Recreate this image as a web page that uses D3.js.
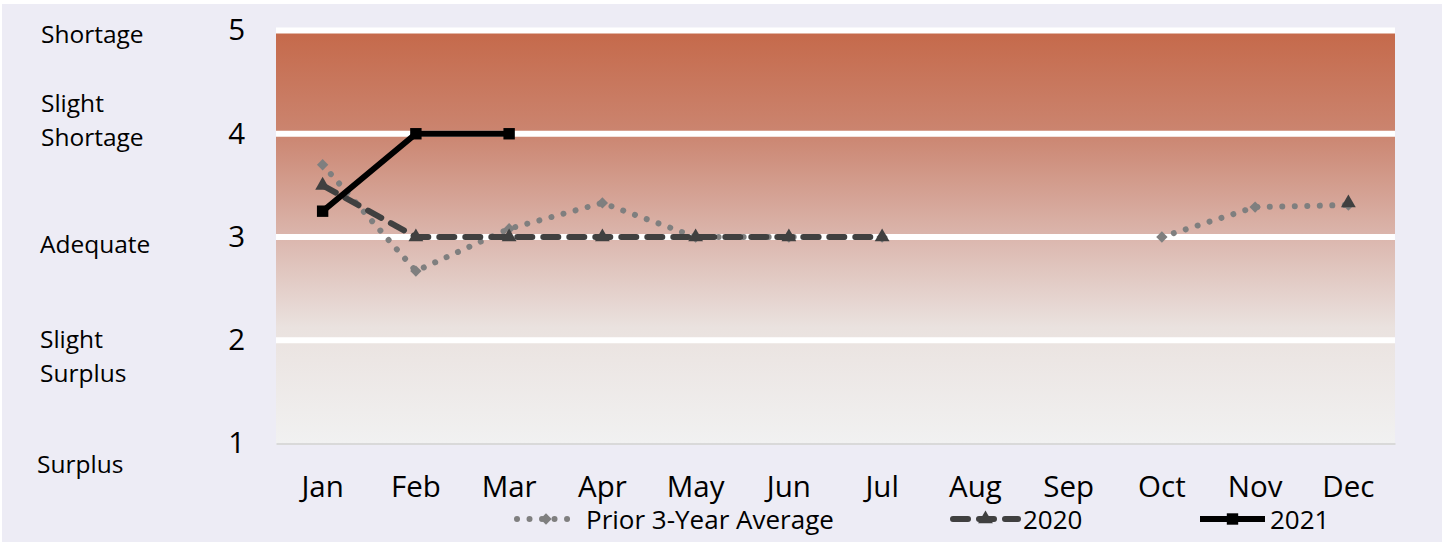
<!DOCTYPE html>
<html>
<head>
<meta charset="utf-8">
<script src="https://cdn.jsdelivr.net/npm/d3@7"></script>
<style>
  body { margin: 0; background: #fff; font-family: "Open Sans", sans-serif; }
  text { fill: #000; }
</style>
</head>
<body>
<script>
const months = ["Jan", "Feb", "Mar", "Apr", "May", "Jun", "Jul", "Aug", "Sep", "Oct", "Nov", "Dec"];
const priorAvg = [3.7, 2.67, 3.08, 3.33, 3.0, 3.0, 3.0, null, null, 3.0, 3.29, 3.31];
const y2020 = [3.5, 3.0, 3.0, 3.0, 3.0, 3.0, 3.0, null, null, null, null, 3.33];
const y2021 = [3.25, 4.0, 4.0, null, null, null, null, null, null, null, null, null];
const yTicks = [1, 2, 3, 4, 5];
// left side category names, one row each (value, lines)
const levelNames = [
  { v: 5, lines: ["Shortage"] },
  { v: 4, lines: ["Slight", "Shortage"] },
  { v: 3, lines: ["Adequate"] },
  { v: 2, lines: ["Slight", "Surplus"] },
  { v: 1, lines: ["Surplus"] }
];
const seriesNames = ["Prior 3-Year Average", "2020", "2021"];

const width = 1445, height = 542;
const margin = { top: 30.5, right: 50, bottom: 98.5, left: 276 };

const svg = d3.select("body").append("svg").attr("width", width).attr("height", height);

svg.append("rect").attr("x", 2).attr("y", 4).attr("width", 1440).attr("height", 538).attr("fill", "#edecf5");

const x = d3.scaleBand().domain(months).range([margin.left, width - margin.right]);
const y = d3.scaleLinear().domain([1, 5]).range([height - margin.bottom, margin.top]);
const cx = m => x(m) + x.bandwidth() / 2;

// background gradient
const grad = svg.append("defs").append("linearGradient")
  .attr("id", "bg").attr("x1", 0).attr("y1", 0).attr("x2", 0).attr("y2", 1);
[["0%", "#c5694a"], ["25%", "#cb8570"], ["50%", "#dbb6ad"], ["72%", "#eae2df"], ["100%", "#f1f1f1"]]
  .forEach(([o, c]) => grad.append("stop").attr("offset", o).attr("stop-color", c));

svg.append("rect")
  .attr("x", margin.left).attr("y", y(5))
  .attr("width", width - margin.right - margin.left).attr("height", y(1) - y(5))
  .attr("fill", "url(#bg)");

// grid
svg.append("g").selectAll("line")
  .data(yTicks.filter(d => d > 1))
  .join("line")
  .attr("x1", margin.left).attr("x2", width - margin.right)
  .attr("y1", d => y(d)).attr("y2", d => y(d))
  .attr("stroke", "#fff").attr("stroke-width", 6);

// x axis
const xAxis = svg.append("g")
  .attr("transform", `translate(0,${y(1)})`)
  .call(d3.axisBottom(x).tickSize(0).tickPadding(33));
xAxis.select(".domain").attr("stroke", "#d9d9d9").attr("stroke-width", 2);
xAxis.selectAll("text").attr("font-size", 29.5).attr("font-family", "Open Sans").attr("fill", "#000");

// y axis
const yAxis = svg.append("g")
  .attr("transform", `translate(${margin.left},0)`)
  .call(d3.axisLeft(y).tickValues(yTicks).tickFormat(d3.format("d")).tickSize(0).tickPadding(31));
yAxis.select(".domain").remove();
yAxis.selectAll("text").attr("font-size", 29.5).attr("font-family", "Open Sans").attr("fill", "#000");

// level names
const levelX = { 5: 41, 4: 41, 3: 40, 2: 40, 1: 37 };
const levelDy = { 5: [12.5], 4: [-22, 12.5], 3: [15.5], 2: [7.5, 42], 1: [29] };
levelNames.forEach(l => {
  l.lines.forEach((t, i) => {
    svg.append("text")
      .attr("x", levelX[l.v]).attr("y", y(l.v) + levelDy[l.v][i])
      .attr("font-size", 24.5).text(t);
  });
});

// series
const line = d3.line()
  .defined(d => d.v != null)
  .x(d => cx(d.m)).y(d => y(d.v));
const toPts = arr => months.map((m, i) => ({ m, v: arr[i] }));

const series = [
  { name: seriesNames[0], data: priorAvg, color: "#7f7f7f", width: 6, dash: "0.01 12.5",
    symbol: d3.symbolSquare, size: 64, rotate: 45 },
  { name: seriesNames[1], data: y2020, color: "#404040", width: 6, dash: "15 11",
    symbol: d3.symbolTriangle, size: 95, rotate: 0 },
  { name: seriesNames[2], data: y2021, color: "#000", width: 6, dash: null,
    symbol: d3.symbolSquare, size: 130, rotate: 0 }
];

series.forEach(s => {
  const pts = toPts(s.data);
  svg.append("path")
    .attr("d", line(pts))
    .attr("fill", "none")
    .attr("stroke", s.color)
    .attr("stroke-width", s.width)
    .attr("stroke-linecap", s.dash ? "round" : "butt")
    .attr("stroke-linejoin", "round")
    .attr("stroke-dasharray", s.dash);
  svg.append("g").selectAll("path")
    .data(pts.filter(d => d.v != null))
    .join("path")
    .attr("transform", d => `translate(${cx(d.m)},${y(d.v)}) rotate(${s.rotate})`)
    .attr("d", d3.symbol().type(s.symbol).size(s.size))
    .attr("fill", s.color);
});

// legend
const legendPos = [
  { x0: 517, x1: 575, tx: 586 },
  { x0: 953, x1: 1018, tx: 1023 },
  { x0: 1200, x1: 1265, tx: 1270 }
];
const ly = 519;
series.forEach((s, i) => {
  const p = legendPos[i];
  svg.append("line")
    .attr("x1", p.x0).attr("x2", p.x1).attr("y1", ly).attr("y2", ly)
    .attr("stroke", s.color).attr("stroke-width", s.width)
    .attr("stroke-linecap", s.dash ? "round" : "butt")
    .attr("stroke-dasharray", s.dash);
  svg.append("path")
    .attr("transform", `translate(${(p.x0 + p.x1) / 2},${ly}) rotate(${s.rotate})`)
    .attr("d", d3.symbol().type(s.symbol).size(s.size))
    .attr("fill", s.color);
  svg.append("text")
    .attr("x", p.tx).attr("y", ly + 9.5)
    .attr("font-size", 26).text(s.name);
});
</script>
</body>
</html>
